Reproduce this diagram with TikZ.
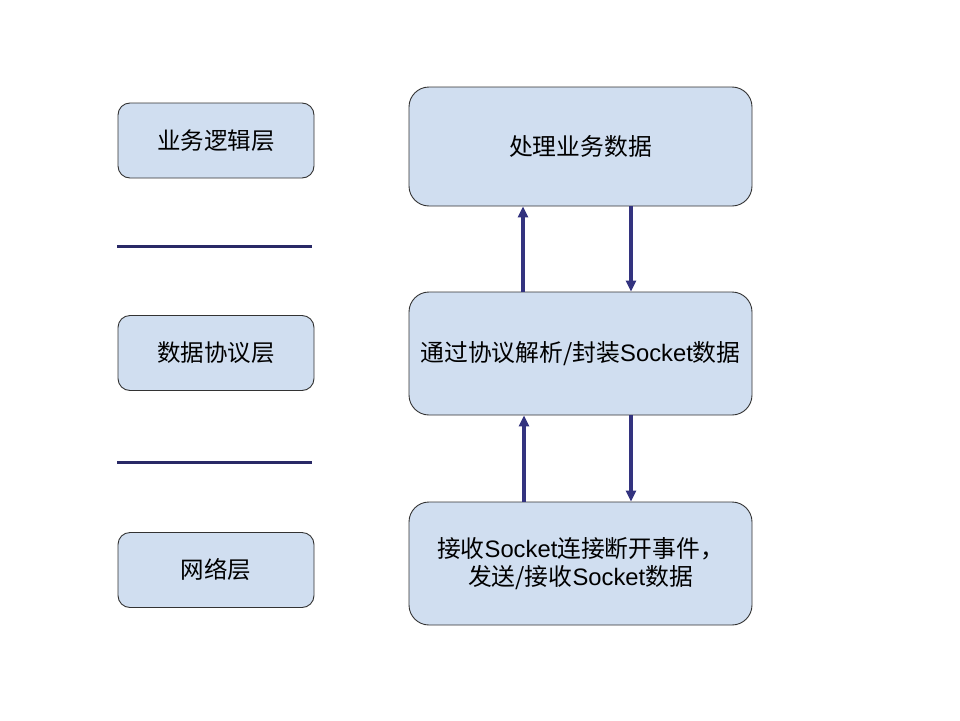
\documentclass[tikz,border=0pt]{standalone}
\usepackage{fontspec}
\setmainfont{Liberation Sans}
\newfontfamily\cjk{Noto Sans CJK SC}
\usetikzlibrary{arrows.meta}
\definecolor{boxfill}{HTML}{D0DEF0}
\definecolor{boxdraw}{HTML}{333333}
\definecolor{arrowc}{HTML}{33337F}
\begin{document}
\begin{tikzpicture}[x=1pt,y=-1pt,
  layerbox/.style={draw=boxdraw,fill=boxfill,line width=0.9pt,rounded corners=12pt,minimum width=196pt,minimum height=75pt,inner sep=0pt,font=\fontsize{23.5}{28}\selectfont},
  bigbox/.style={draw=boxdraw,fill=boxfill,line width=0.9pt,rounded corners=20pt,minimum width=343pt,minimum height=120pt,inner sep=0pt,font=\fontsize{23.8}{28}\selectfont,align=center},
  flow/.style={draw=arrowc,line width=3.5pt,-{Triangle[length=11pt,width=10pt]}},
  sep/.style={draw=arrowc!80!black,line width=3pt}]
\path[use as bounding box] (0,0) rectangle (960,720);
\fill[white] (0,0) rectangle (960,720);
% left layers
\node[layerbox] (l1) at (216,140.5) {\cjk 业务逻辑层};
\node[layerbox] (l2) at (216,353) {\cjk 数据协议层};
\node[layerbox] (l3) at (216,570) {\cjk 网络层};
\coordinate (s1a) at (117,246); \coordinate (s1b) at (312,246);
\coordinate (s2a) at (117,462); \coordinate (s2b) at (312,462);
\draw[sep] (s1a) -- (s1b);
\draw[sep] (s2a) -- (s2b);
% right boxes
\node[bigbox,minimum height=119pt] (r1) at (580.5,146.5) {{\cjk 处理业务数据}};
\node[bigbox,minimum height=123pt] (r2) at (580.5,353.5) {{\cjk 通过协议解析/封装}Socket{\cjk 数据}};
\node[bigbox,minimum height=123pt] (r3) at (580.5,563.5) {{\cjk 接收}Socket{\cjk 连接断开事件，}\\{\cjk 发送/接收}Socket{\cjk 数据}};
% arrows
\draw[flow] (r2.north -| 523,0) -- (r1.south -| 523,0);
\draw[flow] (r1.south -| 631,0) -- (r2.north -| 631,0);
\draw[flow] (r3.north -| 524,0) -- (r2.south -| 524,0);
\draw[flow] (r2.south -| 631,0) -- (r3.north -| 631,0);
\end{tikzpicture}
\end{document}
